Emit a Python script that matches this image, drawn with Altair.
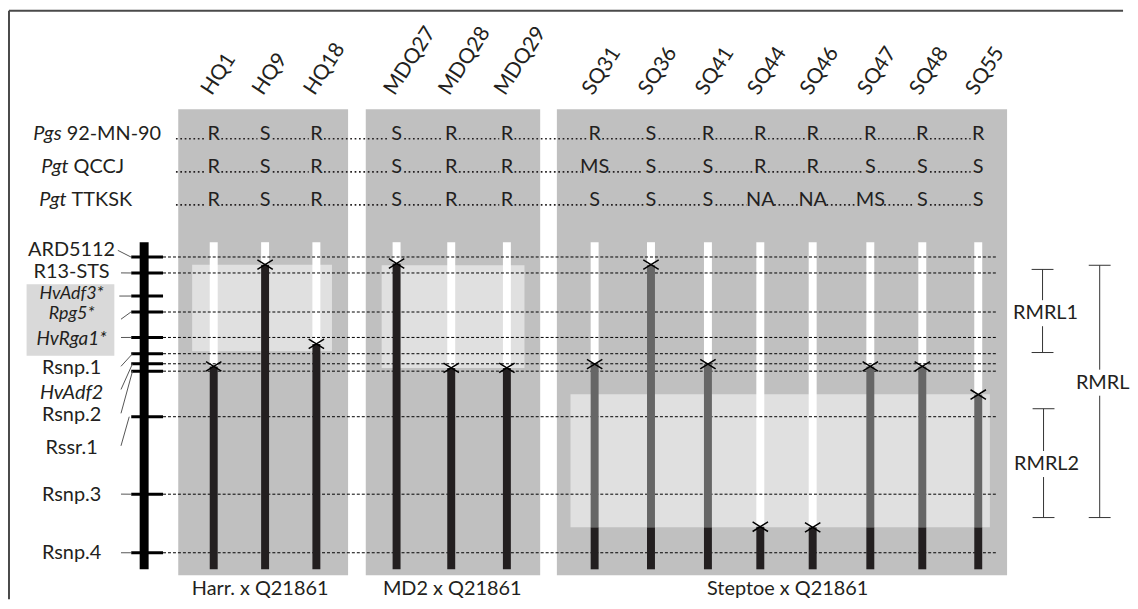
import altair as alt
import pandas as pd

# ---------------- data ----------------
MARKERS = ["ARD5112", "R13-STS", "HvAdf3*", "Rpg5*", "HvRga1*", "Rsnp.1",
           "HvAdf2", "Rsnp.2", "Rssr.1", "Rsnp.3", "Rsnp.4"]
MARKER_POS = [0.0, 5.4, 13.2, 18.6, 27.2, 32.7, 36.1, 38.6, 54.0, 80.2, 100.0]
MARKER_ITALIC = [False, False, True, True, True, False, True, False, False, False, False]
MARKER_DASHED = [True, True, False, True, True, True, True, True, True, True, True]

LINES = ["HQ1", "HQ9", "HQ18", "MDQ27", "MDQ28", "MDQ29", "SQ31", "SQ36",
         "SQ41", "SQ44", "SQ46", "SQ47", "SQ48", "SQ55"]
POPULATION = ["Harr"] * 3 + ["MD2"] * 3 + ["Steptoe"] * 8
CROSSOVER = [37.0, 2.6, 29.4, 2.2, 37.5, 37.5, 36.2, 2.6, 36.2, 91.2, 91.4, 37.0, 37.0, 46.5]
PGS_92MN90 = ["R", "S", "R", "S", "R", "R", "R", "S", "R", "R", "R", "R", "R", "R"]
PGT_QCCJ = ["R", "S", "R", "S", "R", "R", "MS", "S", "S", "R", "R", "S", "S", "S"]
PGT_TTKSK = ["R", "S", "R", "S", "R", "R", "S", "S", "S", "NA", "NA", "MS", "S", "S"]

ISOLATE_SPECIES = ["Pgs", "Pgt", "Pgt"]
ISOLATE_NAMES = ["92-MN-90", "QCCJ", "TTKSK"]

POP_KEYS = ["Harr", "MD2", "Steptoe"]
POP_LABELS = ["Harr. x Q21861", "MD2 x Q21861", "Steptoe x Q21861"]

LIGHT_POP = ["Harr", "MD2", "Steptoe"]
LIGHT_START = [2.6, 2.8, 46.4]
LIGHT_END = [31.9, 37.5, 91.4]

REGIONS = ["RMRL1", "RMRL2", "RMRL"]
REGION_START = [4.2, 51.3, 2.8]
REGION_END = [32.3, 88.1, 88.1]
REGION_LABEL_POS = [19.0, 70.0, 42.5]

MAP_TOP, MAP_BOTTOM = -5.0, 105.6

# ---------------- layout ----------------
W, H = 1122, 593
Y0, K = 256.7, 2.976


def u(py):
    return (py - Y0) / K


XS = alt.Scale(domain=[8, 1130], nice=False, zero=False)
YS = alt.Scale(domain=[u(8), u(601)], nice=False, zero=False, reverse=True)

LINE_X = [215, 266.7, 318.3, 399, 454, 510, 598.3, 655, 712.3, 765, 817.7, 875.7, 928, 984.3]
POP_BOX_X = {"Harr": (179.3, 350.2), "MD2": (368, 543.5), "Steptoe": (560.3, 1013.3)}
POP_BOX_Y = (108, 577)
LIGHT_BOX_X = {"Harr": (193.3, 334), "MD2": (384, 527.7), "Steptoe": (574, 996)}
POP_LABEL_X = [261.7, 455, 792.5]
CHROM_X = 145
TICK_X = (132, 164)
DASH_X = (164, 1002)
LABEL_X = 72
LABEL_BASE_PX = [256, 278, 299, 319, 345, 374, 400, 422, 455, 502, 561]
LABEL_SIZE = [20, 20, 18, 18, 19, 20, 20, 20, 20, 20, 20]
LEADER_FROM = [(118.5, 250), (121.7, 272.7), (120, 296), (121.7, 319.3), (121.7, 337.7),
               (121.7, 366.7), (121.7, 390), (121.7, 414), (121.7, 446.7), (121.7, 495.3),
               (121.7, 554.3)]
LEADER_TO_X = [131.7, 131.7, 131.7, 131.7, 131.7, 133.3, 133.3, 133.3, 130, 131.7, 131.7]
ROW_BASE_PX = [138.7, 172, 205.3]
ROW_SPLIT_X = [62, 69, 67]
DOTS_START = 177
BRACKET_X = [1049, 1050, 1106.5]
CAP_HALF = 11
TXT = "#231f20"
FS = 20


def X(f):
    return alt.X(f, type="quantitative", scale=XS, axis=None)


def Y(f):
    return alt.Y(f, type="quantitative", scale=YS, axis=None)


# ---------------- tables ----------------
boxes = pd.DataFrame({
    "x": [POP_BOX_X[p][0] for p in POP_KEYS], "x2": [POP_BOX_X[p][1] for p in POP_KEYS],
    "y": [u(POP_BOX_Y[0])] * 3, "y2": [u(POP_BOX_Y[1])] * 3,
})
light = pd.DataFrame({
    "x": [LIGHT_BOX_X[p][0] for p in LIGHT_POP], "x2": [LIGHT_BOX_X[p][1] for p in LIGHT_POP],
    "y": LIGHT_START, "y2": LIGHT_END,
})
hl = pd.DataFrame({"x": [26.7], "x2": [115], "y": [u(284)], "y2": [u(356)]})

lines = pd.DataFrame({"line": LINES, "pop": POPULATION, "x": LINE_X, "co": CROSSOVER})
white = lines.assign(y=MAP_TOP, y2=lines["co"])

dark_rows = []
lb2_end = LIGHT_END[2]
for ln, pop, x, co in zip(LINES, POPULATION, LINE_X, CROSSOVER):
    if pop == "Steptoe" and co < lb2_end - 0.5:
        dark_rows.append(dict(x=x, y=co, y2=lb2_end, c="#666666"))
        dark_rows.append(dict(x=x, y=lb2_end, y2=MAP_BOTTOM, c="#231f20"))
    else:
        dark_rows.append(dict(x=x, y=co, y2=MAP_BOTTOM, c="#231f20"))
dark = pd.DataFrame(dark_rows)

markers = pd.DataFrame({"m": MARKERS, "pos": MARKER_POS, "it": MARKER_ITALIC,
                        "dash": MARKER_DASHED, "fs": LABEL_SIZE})
markers["ly"] = [u(p) for p in LABEL_BASE_PX]
markers["lx"] = LABEL_X
markers["fx"] = [p[0] for p in LEADER_FROM]
markers["fy"] = [u(p[1]) for p in LEADER_FROM]
markers["tx"] = LEADER_TO_X
markers["t0"] = TICK_X[0]
markers["t1"] = TICK_X[1]
markers["d0"] = DASH_X[0]
markers["d1"] = DASH_X[1]

chrom = pd.DataFrame({"x": [CHROM_X], "y": [MAP_TOP], "y2": [MAP_BOTTOM]})

header = pd.DataFrame({"line": LINES, "x": [x - 2 for x in LINE_X], "y": [u(95)] * len(LINES)})

calls_rows, dots_rows, iso_rows = [], [], []
for ri, calls in enumerate([PGS_92MN90, PGT_QCCJ, PGT_TTKSK]):
    yb = u(ROW_BASE_PX[ri])
    prev = DOTS_START
    for x, c in zip(LINE_X, calls):
        hw = 6.2 * len(c)
        calls_rows.append(dict(x=x, y=yb, t=c))
        dots_rows.append(dict(x=prev, x2=x - hw - 1.5, y=u(ROW_BASE_PX[ri] - 1)))
        prev = x + hw + 1.5
    iso_rows.append(dict(x=ROW_SPLIT_X[ri], y=yb, sp=ISOLATE_SPECIES[ri],
                         nm=ISOLATE_NAMES[ri]))
calls_df = pd.DataFrame(calls_rows)
dots_df = pd.DataFrame(dots_rows)
iso_df = pd.DataFrame(iso_rows)

pops = pd.DataFrame({"t": POP_LABELS, "x": POP_LABEL_X, "y": [u(596.7)] * 3})

gap = 4.4
br_seg, br_cap, br_lab = [], [], []
for name, s, e, lp, bx in zip(REGIONS, REGION_START, REGION_END, REGION_LABEL_POS, BRACKET_X):
    br_seg.append(dict(x=bx, y=s, y2=lp - gap))
    br_seg.append(dict(x=bx, y=lp + gap, y2=e))
    br_cap.append(dict(x=bx - CAP_HALF, x2=bx + CAP_HALF, y=s))
    br_cap.append(dict(x=bx - CAP_HALF, x2=bx + CAP_HALF, y=e))
    br_lab.append(dict(x=bx + 3, y=lp, t=name))
br_seg, br_cap, br_lab = pd.DataFrame(br_seg), pd.DataFrame(br_cap), pd.DataFrame(br_lab)

# ---------------- layers ----------------
L = []
L.append(alt.Chart(boxes).mark_rect(color="#c0c0c0").encode(
    x=X("x"), x2="x2", y=Y("y"), y2="y2"))
L.append(alt.Chart(hl).mark_rect(color="#d9d9d9").encode(
    x=X("x"), x2="x2", y=Y("y"), y2="y2"))
L.append(alt.Chart(light).mark_rect(color="#e0e0e0").encode(
    x=X("x"), x2="x2", y=Y("y"), y2="y2"))
L.append(alt.Chart(white).mark_rule(color="white", strokeWidth=8).encode(
    x=X("x"), y=Y("y"), y2="y2"))
L.append(alt.Chart(markers[markers["dash"]]).mark_rule(
    color="black", strokeWidth=1, strokeDash=[3, 2]).encode(
    x=X("d0"), x2="d1", y=Y("pos")))
L.append(alt.Chart(dark).mark_rule(strokeWidth=8).encode(
    x=X("x"), y=Y("y"), y2="y2", color=alt.Color("c:N", scale=None)))
L.append(alt.Chart(chrom).mark_rule(color="black", strokeWidth=9).encode(
    x=X("x"), y=Y("y"), y2="y2"))
L.append(alt.Chart(markers).mark_rule(color="black", strokeWidth=3).encode(
    x=X("t0"), x2="t1", y=Y("pos")))
L.append(alt.Chart(markers).mark_rule(color="#555555", strokeWidth=1).encode(
    x=X("fx"), x2="tx", y=Y("fy"), y2="pos"))
L.append(alt.Chart(lines).mark_point(
    shape="M-1,-0.62L1,0.62M-1,0.62L1,-0.62", filled=False, color="black",
    strokeWidth=1.5, size=240, opacity=1).encode(x=X("x"), y=Y("co")))
# marker labels
L.append(alt.Chart(markers[~markers["it"]]).mark_text(
    align="center", baseline="alphabetic", color=TXT).encode(
    x=X("lx"), y=Y("ly"), text="m:N", size=alt.Size("fs:Q", scale=None)))
L.append(alt.Chart(markers[markers["it"]]).mark_text(
    align="center", baseline="alphabetic", color=TXT, fontStyle="italic").encode(
    x=X("lx"), y=Y("ly"), text="m:N", size=alt.Size("fs:Q", scale=None)))
# header labels
L.append(alt.Chart(header).mark_text(
    align="left", baseline="alphabetic", angle=303, fontSize=21, color=TXT).encode(
    x=X("x"), y=Y("y"), text="line:N"))
# rows of resistance calls
L.append(alt.Chart(dots_df).mark_rule(
    color=TXT, strokeWidth=1.7, strokeDash=[1.7, 2.7]).encode(
    x=X("x"), x2="x2", y=Y("y")))
L.append(alt.Chart(calls_df).mark_text(
    align="center", baseline="alphabetic", fontSize=FS, color=TXT).encode(
    x=X("x"), y=Y("y"), text="t:N"))
L.append(alt.Chart(iso_df).mark_text(
    align="right", baseline="alphabetic", fontSize=FS, color=TXT, fontStyle="italic").encode(
    x=X("x"), y=Y("y"), text="sp:N"))
L.append(alt.Chart(iso_df).mark_text(
    align="left", baseline="alphabetic", fontSize=FS, color=TXT, dx=5).encode(
    x=X("x"), y=Y("y"), text="nm:N"))
# population labels
L.append(alt.Chart(pops).mark_text(
    align="center", baseline="alphabetic", fontSize=FS, color=TXT).encode(
    x=X("x"), y=Y("y"), text="t:N"))
# brackets
L.append(alt.Chart(br_seg).mark_rule(color="#333333", strokeWidth=1).encode(
    x=X("x"), y=Y("y"), y2="y2"))
L.append(alt.Chart(br_cap).mark_rule(color="#333333", strokeWidth=1).encode(
    x=X("x"), x2="x2", y=Y("y")))
L.append(alt.Chart(br_lab).mark_text(
    align="center", baseline="middle", fontSize=FS, color=TXT).encode(
    x=X("x"), y=Y("y"), text="t:N"))
# frame (top and left edges)
frame = pd.DataFrame({"a": [0]})
L.append(alt.Chart(frame).mark_rule(color="#4a4a4a", strokeWidth=2).encode(
    x=alt.value(1), x2=alt.value(W), y=alt.value(1)))
L.append(alt.Chart(frame).mark_rule(color="#4a4a4a", strokeWidth=2).encode(
    x=alt.value(1), y=alt.value(1), y2=alt.value(H)))

chart = alt.layer(*L).properties(
    width=W, height=H, padding=0, background="white"
).configure_view(stroke=None).configure_text(font="Lato")

chart.save("out.html", embed_options={"renderer": "svg", "actions": False})
